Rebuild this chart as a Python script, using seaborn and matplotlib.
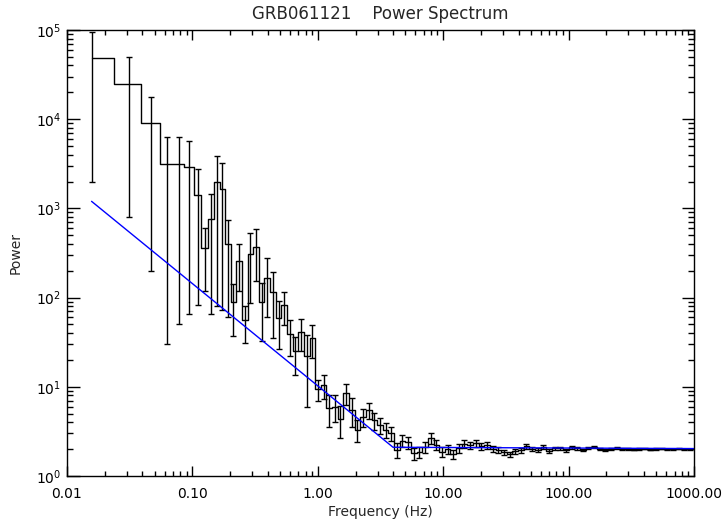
import matplotlib
matplotlib.use("Agg")
import matplotlib.pyplot as plt
from matplotlib.ticker import LogLocator, FixedLocator, FixedFormatter
import numpy as np
import pandas as pd
import seaborn as sns

# binned power spectrum of GRB061121
freq = [0.0157, 0.0314, 0.0471, 0.0628, 0.0785, 0.0942, 0.1099, 0.1256, 0.1413, 0.157,
        0.1727, 0.1915, 0.2124, 0.2356, 0.2612, 0.2897, 0.3213, 0.3563, 0.3951, 0.4382,
        0.486, 0.539, 0.5977, 0.6629, 0.7351, 0.8153, 0.9041, 1.0027, 1.112, 1.233,
        1.368, 1.517, 1.682, 1.866, 2.069, 2.295, 2.545, 2.822, 3.130, 3.471,
        3.849, 4.269, 4.734, 5.250, 5.823, 6.457, 7.161, 7.942, 8.808, 9.768,
        10.83, 12.01, 13.32, 14.78, 16.39, 18.17, 20.15, 22.35, 24.79, 27.49,
        30.49, 33.81, 37.50, 41.58, 46.12, 51.14, 56.72, 62.90, 69.76, 77.37,
        85.80, 95.15, 105.5, 117.0, 129.8, 143.9, 159.6, 177.0, 196.3, 217.7,
        241.5, 267.8, 297.0, 329.3, 365.2, 405.0, 449.2, 498.2, 552.5, 612.7,
        679.5, 753.6, 835.7, 926.8]
power = [49000, 25000, 9000, 3150, 3150, 2900, 1416, 360, 755, 1960,
         1633, 400, 89, 260, 56, 306, 371, 89, 168, 115,
         58.6, 83, 39, 25, 41, 22, 35, 9.5, 10.5, 5.8,
         6.0, 4.4, 8.5, 5.5, 3.3, 4.6, 5.5, 4.2, 3.7, 3.3,
         3.0, 1.96, 2.5, 2.4, 1.8, 1.86, 2.13, 2.65, 2.23, 1.86,
         2.0, 1.75, 2.05, 2.3, 2.2, 2.35, 2.15, 2.2, 2.0, 1.95,
         1.85, 1.75, 1.9, 1.95, 2.15, 2.0, 1.95, 2.1, 1.9, 2.05,
         2.05, 1.95, 2.1, 2.05, 1.95, 2.05, 2.1, 2.0, 1.97, 2.0,
         2.05, 2.0, 2.02, 1.98, 2.0, 2.03, 1.98, 2.0, 2.02, 1.99,
         2.0, 2.01, 1.99, 2.0]
sigma = [47000, 24200, 8800, 3120, 3100, 2835, 1334, 240, 690, 1880,
         1560, 340, 52, 140, 25, 220, 216, 56, 107, 80,
         32, 34, 17, 11.5, 16, 16, 14, 2.5, 3.2, 2.3,
         2.0, 1.7, 2.3, 2.0, 0.9, 1.1, 1.1, 0.9, 0.75, 0.62,
         0.55, 0.36, 0.4, 0.37, 0.27, 0.27, 0.3, 0.35, 0.28, 0.23,
         0.24, 0.2, 0.22, 0.23, 0.21, 0.21, 0.19, 0.18, 0.16, 0.15,
         0.13, 0.12, 0.12, 0.12, 0.12, 0.11, 0.1, 0.1, 0.09, 0.09,
         0.086, 0.078, 0.08, 0.074, 0.067, 0.067, 0.065, 0.059, 0.055, 0.053,
         0.051, 0.048, 0.046, 0.043, 0.041, 0.039, 0.036, 0.035, 0.033, 0.031,
         0.03, 0.028, 0.027, 0.025]

# fitted model (power law + flat level)
model_f = [0.0157, 3.98, 1000.0]
model_p = [1200.0, 2.1, 2.03]

xtick_vals = [0.01, 0.1, 1, 10, 100, 1000]
xtick_labels = ["0.01", "0.10", "1.00", "10.00", "100.00", "1000.00"]

sns.set_style("ticks")
plt.rcParams['font.family'] = ['DejaVu Sans']

fig = plt.figure(figsize=(7.26, 5.25), dpi=100)
ax = fig.add_axes([67 / 726, 49 / 525, 627 / 726, 446 / 525])

spec = pd.DataFrame({"freq": freq, "power": power})
sns.lineplot(data=spec, x="freq", y="power", drawstyle="steps-mid", color="black",
             lw=1, estimator=None, sort=False, ax=ax)
ax.errorbar(freq, power, yerr=sigma, fmt="none", ecolor="black", elinewidth=1,
            capsize=2.4, capthick=1)
sns.lineplot(x=model_f, y=model_p, color="blue", lw=1, estimator=None, sort=False, ax=ax)

ax.set_xscale("log")
ax.set_yscale("log")
ax.set_xlim(0.01, 1000)
ax.set_ylim(1, 1e5)

ax.xaxis.set_major_locator(FixedLocator(xtick_vals))
ax.xaxis.set_major_formatter(FixedFormatter(xtick_labels))
ax.xaxis.set_minor_locator(LogLocator(base=10, subs=np.arange(2, 10), numticks=20))
ax.yaxis.set_minor_locator(LogLocator(base=10, subs=np.arange(2, 10), numticks=20))

ax.tick_params(which="both", direction="in", top=True, right=True, width=1, colors="black")
ax.tick_params(axis="x", which="major", length=7, pad=8, labelsize=10)
ax.tick_params(axis="x", which="minor", length=3.5)
ax.tick_params(axis="y", which="major", length=9, pad=4, labelsize=10)
ax.tick_params(axis="y", which="minor", length=4.5)
for s in ax.spines.values():
    s.set_linewidth(1)
    s.set_color("black")

ax.set_xlabel("Frequency (Hz)", fontsize=10, labelpad=3)
ax.set_ylabel("Power", fontsize=10, labelpad=10)
ax.set_title("GRB061121    Power Spectrum", fontsize=12, pad=8)

fig.savefig("out.png", dpi=100)
